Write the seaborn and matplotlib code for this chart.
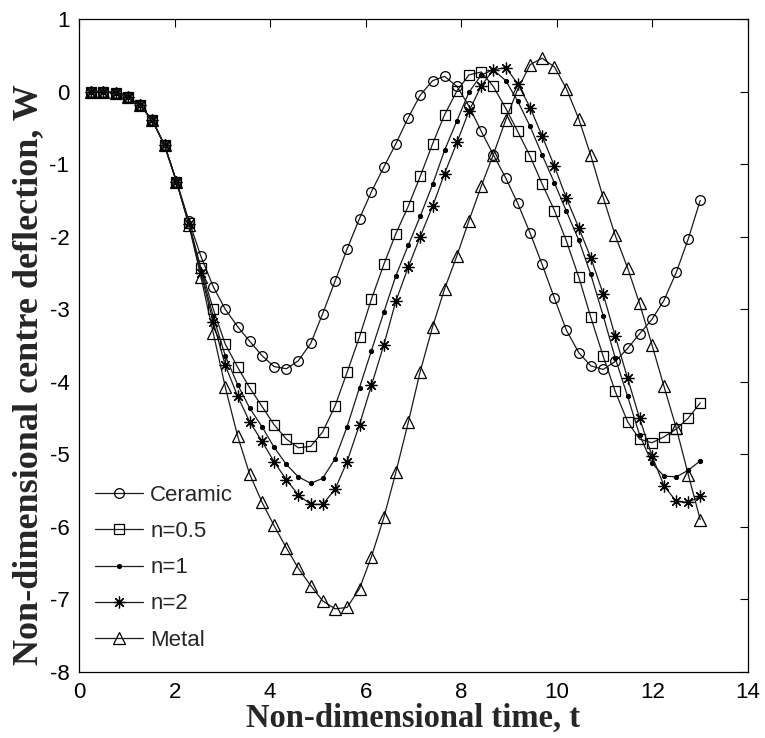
import numpy as np
import pandas as pd
import matplotlib
matplotlib.use("Agg")
import matplotlib.pyplot as plt
import seaborn as sns

# Non-dimensional time (sample instants)
t = [0.26, 0.51, 0.77, 1.02, 1.28, 1.53, 1.79, 2.04, 2.30, 2.55,
     2.81, 3.06, 3.32, 3.57, 3.83, 4.08, 4.34, 4.59, 4.85, 5.10,
     5.36, 5.61, 5.87, 6.12, 6.38, 6.63, 6.89, 7.14, 7.40, 7.65,
     7.91, 8.16, 8.42, 8.67, 8.93, 9.18, 9.44, 9.69, 9.95, 10.20,
     10.46, 10.71, 10.97, 11.22, 11.48, 11.73, 11.99, 12.24, 12.50, 12.75,
     13.00]

ceramic = [0.0, 0.0, -0.02, -0.08, -0.19, -0.39, -0.74, -1.24, -1.78, -2.27,
           -2.69, -3.00, -3.24, -3.44, -3.64, -3.79, -3.82, -3.71, -3.47, -3.06,
           -2.61, -2.17, -1.75, -1.38, -1.04, -0.72, -0.36, -0.05, 0.15, 0.21,
           0.07, -0.20, -0.55, -0.87, -1.19, -1.54, -1.95, -2.38, -2.85, -3.29,
           -3.60, -3.78, -3.83, -3.72, -3.54, -3.34, -3.14, -2.88, -2.49, -2.03,
           -1.50]

n05 = [0.0, 0.0, -0.02, -0.08, -0.19, -0.39, -0.74, -1.24, -1.81, -2.43,
       -3.00, -3.48, -3.80, -4.08, -4.34, -4.59, -4.79, -4.91, -4.89, -4.69,
       -4.33, -3.87, -3.38, -2.86, -2.38, -1.96, -1.58, -1.17, -0.72, -0.32,
       0.01, 0.23, 0.27, 0.07, -0.23, -0.55, -0.89, -1.27, -1.64, -2.06,
       -2.56, -3.11, -3.65, -4.13, -4.55, -4.79, -4.84, -4.76, -4.65, -4.50,
       -4.29]

n1 = [0.0, 0.0, -0.02, -0.08, -0.19, -0.39, -0.74, -1.24, -1.82, -2.47,
      -3.10, -3.64, -4.04, -4.36, -4.62, -4.90, -5.14, -5.31, -5.40, -5.33,
      -5.06, -4.62, -4.08, -3.57, -3.04, -2.54, -2.12, -1.72, -1.28, -0.81,
      -0.40, -0.01, 0.23, 0.30, 0.15, -0.13, -0.48, -0.87, -1.26, -1.65,
      -2.05, -2.52, -3.09, -3.67, -4.20, -4.73, -5.12, -5.30, -5.31, -5.22,
      -5.09]

n2 = [0.0, 0.0, -0.02, -0.08, -0.19, -0.39, -0.74, -1.24, -1.83, -2.50,
      -3.18, -3.77, -4.20, -4.55, -4.82, -5.10, -5.35, -5.56, -5.69, -5.69,
      -5.48, -5.10, -4.59, -4.05, -3.49, -2.89, -2.42, -2.00, -1.58, -1.13,
      -0.70, -0.27, 0.08, 0.30, 0.33, 0.11, -0.22, -0.61, -1.03, -1.47,
      -1.88, -2.29, -2.79, -3.37, -3.95, -4.50, -5.02, -5.43, -5.65, -5.66,
      -5.58]

metal = [0.0, 0.0, -0.02, -0.08, -0.19, -0.39, -0.74, -1.24, -1.84, -2.55,
         -3.33, -4.07, -4.75, -5.27, -5.66, -5.98, -6.29, -6.57, -6.81, -7.02,
         -7.13, -7.11, -6.85, -6.41, -5.87, -5.25, -4.56, -3.86, -3.24, -2.72,
         -2.26, -1.78, -1.30, -0.87, -0.39, 0.03, 0.37, 0.46, 0.34, 0.04,
         -0.38, -0.88, -1.46, -1.98, -2.43, -2.92, -3.49, -4.06, -4.64, -5.28,
         -5.90]

labels = ["Ceramic", "n=0.5", "n=1", "n=2", "Metal"]
xticks = [0, 2, 4, 6, 8, 10, 12, 14]
yticks = [-8, -7, -6, -5, -4, -3, -2, -1, 0, 1]

sns.set_style("white")
plt.rcParams['font.family'] = ['Liberation Sans', 'DejaVu Sans']
plt.rcParams['axes.unicode_minus'] = False

fig = plt.figure(figsize=(7.65, 7.38), dpi=100)
ax = fig.add_axes([79/765, 66/738, 669/765, 653/738])

series = [ceramic, n05, n1, n2, metal]
styles = [
    dict(marker='o', markersize=7, markerfacecolor='none', markeredgewidth=0.9),
    dict(marker='s', markersize=7.5, markerfacecolor='none', markeredgewidth=0.9),
    dict(marker='.', markersize=6, markerfacecolor='black'),
    dict(marker=(8, 2, 0), markersize=8.5, markeredgewidth=0.9),
    dict(marker='^', markersize=8, markerfacecolor='none', markeredgewidth=0.9),
]
for vals, lab, st in zip(series, labels, styles):
    df = pd.DataFrame({"t": t, "W": vals})
    sns.lineplot(data=df, x="t", y="W", ax=ax, label=lab, color='#1a1a1a',
                 linewidth=0.9, markeredgecolor='black', **st)

ax.set_xlim(0, 14)
ax.set_ylim(-8, 1)
ax.set_xticks(xticks)
ax.set_yticks(yticks)
ax.tick_params(direction='in', length=6, width=0.8, top=True, right=True,
               labelsize=16, colors='black', pad=7)
for sp in ax.spines.values():
    sp.set_color('black')
    sp.set_linewidth(0.9)

ax.set_xlabel("Non-dimensional time, t", family='Liberation Serif',
              fontweight='bold', fontsize=23.5, labelpad=0)
ax.set_ylabel("Non-dimensional centre deflection, W", family='Liberation Serif',
              fontweight='bold', fontsize=26)
ax.yaxis.set_label_coords(-0.05, 0.455)

leg = ax.legend(loc='lower left', bbox_to_anchor=(0.0, 0.009), frameon=False,
                fontsize=16, handlelength=2.2, labelspacing=0.68,
                handletextpad=0.3, borderaxespad=0.3)

fig.savefig("out.png", dpi=100)
